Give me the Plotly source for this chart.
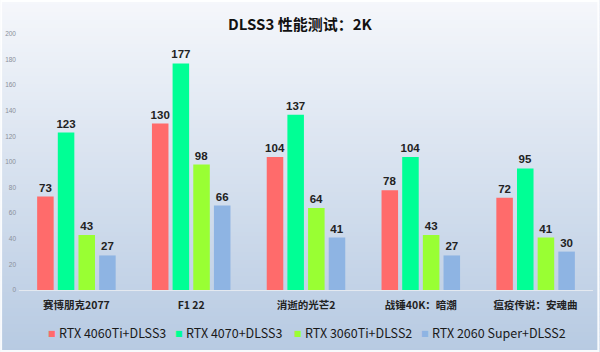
import plotly.graph_objects as go

categories = ["赛博朋克2077", "F1 22", "消逝的光芒2", "战锤40K：暗潮", "瘟疫传说：安魂曲"]
series_names = ["RTX 4060Ti+DLSS3", "RTX 4070+DLSS3", "RTX 3060Ti+DLSS2", "RTX 2060 Super+DLSS2"]
rtx4060ti = [73, 130, 104, 78, 72]
rtx4070 = [123, 177, 137, 104, 95]
rtx3060ti = [43, 98, 64, 43, 41]
rtx2060s = [27, 66, 41, 27, 30]
y_ticks = [0, 20, 40, 60, 80, 100, 120, 140, 160, 180, 200]

colors = ["#ff6b6b", "#00ff95", "#99ff33", "#8eb4e3"]
W, H = 600, 352
ml, mr, mt, mb = 18.5, 6.5, 34, 62
pw, ph = W - ml - mr, H - mt - mb

fig = go.Figure()
for name, vals, c in zip(series_names, [rtx4060ti, rtx4070, rtx3060ti, rtx2060s], colors):
    fig.add_trace(go.Bar(
        name=name, x=categories, y=vals, marker=dict(color=c, line=dict(width=0)),
        text=vals, textposition="outside", cliponaxis=False, constraintext="none",
        textfont=dict(family="Liberation Sans, Arial", size=11.5, color="#222", weight="bold"),
    ))

# background gradient bands
top = (0xf5, 0xf7, 0xfb)
bot = (0xb7, 0xca, 0xe2)
n = 88
shapes = []
for i in range(n):
    t = i / (n - 1)
    col = tuple(round(top[k] + (bot[k] - top[k]) * t) for k in range(3))
    y0p = i * H / n
    y1p = (i + 1) * H / n + 0.5
    shapes.append(dict(
        type="rect", xref="paper", yref="paper", layer="below",
        x0=-ml / pw, x1=1 + mr / pw,
        y0=(H - mb - y1p) / ph, y1=(H - mb - y0p) / ph,
        fillcolor="rgb(%d,%d,%d)" % col, line=dict(width=0),
    ))
shapes.append(dict(
    type="rect", xref="paper", yref="paper", layer="above",
    x0=-ml / pw + 0.001, x1=1 + mr / pw - 0.002,
    y0=-mb / ph + 0.004, y1=1 + mt / ph - 0.004,
    line=dict(color="rgba(255,255,255,0.9)", width=2), fillcolor="rgba(0,0,0,0)",
))

# legend built from annotations (square glyph + label), positions in pixels
legend_marker_x = [51.5, 179, 297.5, 425.5]
legend_text_x = [57, 184, 303, 430]
legend_y = 332.7

def px_x(v):
    return (v - ml) / pw

def px_y(v):
    return (H - mb - v) / ph

annotations = []
for name, c, mx, tx in zip(series_names, colors, legend_marker_x, legend_text_x):
    annotations.append(dict(
        xref="paper", yref="paper", x=px_x(mx), y=px_y(legend_y + 0.5),
        xanchor="center", yanchor="middle", showarrow=False,
        text="■", font=dict(family="DejaVu Sans", size=8, color=c),
    ))
    annotations.append(dict(
        xref="paper", yref="paper", x=px_x(tx), y=px_y(legend_y),
        xanchor="left", yanchor="middle", showarrow=False,
        text=name, font=dict(family="Noto Sans CJK SC", size=12.5, color="#1a1a1a"),
    ))

fig.update_layout(
    width=W, height=H,
    margin=dict(l=ml, r=mr, t=mt, b=mb, autoexpand=False),
    paper_bgcolor="#dfe6f0", plot_bgcolor="rgba(0,0,0,0)",
    shapes=shapes, annotations=annotations,
    barmode="group", bargap=0.28, bargroupgap=0.2,
    title=dict(text="DLSS3 性能测试：2K", x=0.5, xanchor="center", y=1 - 25 / H, yanchor="middle",
               font=dict(family="Noto Sans CJK SC", size=15, color="#111", weight="bold")),
    xaxis=dict(showgrid=False, showline=True, linecolor="#e4e9f0", linewidth=1, automargin=False,
               ticks="", tickfont=dict(family="Noto Sans CJK SC", size=10.5, color="#222", weight="bold"),
               ticklabelstandoff=5),
    yaxis=dict(range=[0, 200], tickvals=y_ticks, showgrid=False, zeroline=False, showline=False,
               automargin=False,
               tickfont=dict(family="Liberation Sans, Arial", size=6.5, color="#8a8f99"),
               ticklabelstandoff=2),
    showlegend=False,
)
fig.write_html("out.html")
